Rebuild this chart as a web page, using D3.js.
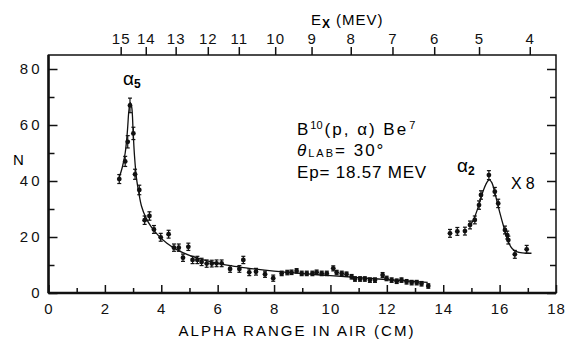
<!DOCTYPE html>
<html>
<head>
<meta charset="utf-8">
<script src="https://cdn.jsdelivr.net/npm/d3@7"></script>
<style>
  body { margin: 0; background: #fff; }
  svg { font-family: 'Liberation Sans', Arial, sans-serif; }
  .tick text { font-size: 14px; letter-spacing: 1px; fill: #111; }
  .yaxis .tick text { font-size: 15px; letter-spacing: 3px; }
</style>
</head>
<body>
<div id="chart"></div>
<script>
// alpha-5 group (range in cm, counts N, error)
const rangeA5 = [2.51, 2.72, 2.81, 2.89, 3.01, 3.07, 3.22, 3.41, 3.58, 3.74, 3.98, 4.26, 4.45, 4.62, 4.77, 4.96, 5.11, 5.28, 5.43, 5.61, 5.79, 5.96, 6.14, 6.44, 6.77, 6.91, 7.12, 7.36, 7.68, 7.97, 8.27, 8.47, 8.62, 8.80, 8.98, 9.16, 9.36, 9.51, 9.69, 9.87, 10.1, 10.22, 10.40, 10.57, 10.75, 10.87, 11.05, 11.22, 11.40, 11.58, 11.85, 11.99, 12.17, 12.35, 12.52, 12.70, 12.88, 13.06, 13.23, 13.47]
const countsA5 = [40.7, 47, 54, 67, 57, 42.4, 36.8, 26, 27.5, 22.7, 19.9, 21, 16.2, 16.2, 12.6, 16.5, 11.8, 11.8, 11.1, 10.5, 10.5, 10.6, 10.6, 8.6, 8.6, 11.8, 7.4, 7.6, 6.7, 5.3, 7.0, 7.3, 7.4, 7.9, 7.0, 7.0, 7.0, 7.4, 7.0, 7.0, 8.8, 7.3, 7.0, 6.7, 5.8, 5.0, 5.0, 5.0, 4.6, 4.6, 6.4, 5.2, 4.6, 4.2, 4.6, 4.0, 3.7, 3.7, 3.3, 2.5]
const errA5 = [1.6, 1.8, 2.2, 2.6, 2.2, 1.8, 1.7, 1.5, 1.5, 1.4, 1.4, 1.4, 1.3, 1.3, 1.3, 1.3, 1.3, 1.3, 1.3, 1.3, 1.2, 1.2, 1.2, 1.2, 1.2, 1.3, 1.2, 1.2, 1.1, 1.1, 0.8, 0.8, 0.8, 0.8, 0.8, 0.8, 0.8, 0.8, 0.8, 0.8, 0.9, 0.8, 0.8, 0.8, 0.8, 0.8, 0.8, 0.8, 0.8, 0.8, 0.9, 0.8, 0.8, 0.8, 0.8, 0.8, 0.8, 0.8, 0.8, 0.8]

// alpha-2 group (plotted x8)
const rangeA2 = [14.24, 14.50, 14.77, 14.95, 15.12, 15.27, 15.34, 15.62, 15.83, 15.95, 16.19, 16.27, 16.31, 16.54, 16.96]
const countsA2 = [21.3, 22.0, 22.1, 24.3, 26.1, 31.4, 35, 42.1, 36.2, 32, 22.5, 20.7, 18.9, 13.8, 15.6]
const errA2 = [1.4, 1.4, 1.4, 1.4, 1.4, 1.5, 1.5, 1.6, 1.5, 1.5, 1.4, 1.4, 1.4, 1.4, 1.4]

// fitted curves
const curveA5R = [2.5, 2.62, 2.72, 2.8, 2.85, 2.9, 2.95, 3.0, 3.05, 3.12, 3.2, 3.3, 3.45, 3.65, 3.9, 4.2, 4.6, 5.0, 5.5, 6.0, 6.5, 7.0, 8.0, 9.0, 10.0, 11.0, 12.0, 13.0, 13.45]
const curveA5N = [41, 45, 50, 58, 65, 68, 66.5, 58, 49, 41, 36, 31, 27, 23.5, 20.5, 17.8, 15.2, 13.4, 11.8, 10.6, 9.7, 9.0, 7.8, 6.9, 6.2, 5.5, 4.8, 4.1, 3.8]
const curveA2R = [14.95, 15.1, 15.25, 15.4, 15.55, 15.63, 15.72, 15.85, 16.0, 16.15, 16.3, 16.45, 16.6, 16.8, 17.13]
const curveA2N = [24, 26.8, 31, 36, 39.5, 40.4, 39.5, 35, 29, 23.5, 18.5, 15.8, 14.8, 14.3, 14.2]

// axis ticks
const rangeTicks = [0, 2, 4, 6, 8, 10, 12, 14, 16, 18]
const rangeMinor = [1, 3, 5, 7, 9, 11, 13, 15, 17]
const nTicks = [0, 20, 40, 60, 80]
const nMinor = [10, 30, 50, 70]
const exTicks = [15, 14, 13, 12, 11, 10, 9, 8, 7, 6, 5, 4]
const exAtRange = [2.56, 3.45, 4.51, 5.65, 6.75, 8.04, 9.33, 10.72, 12.2, 13.68, 15.27, 17.07]

const width = 568, height = 339

const svg = d3.select('#chart')
  .append('svg')
  .attr('width', width)
  .attr('height', height)
  .attr('viewBox', [0, 0, width, height])

const x = d3.scaleLinear().domain([0, 18]).range([48.5, 556])
const y = d3.scaleLinear().domain([0, 80]).range([293, 69])
const yTop = 55

// top (Ex) scale, nonlinear: built from tick pairs
const ex = d3.scaleLinear().domain(exTicks).range(exAtRange.map(x))

// frame
svg.append('rect')
  .attr('x', x(0)).attr('y', yTop)
  .attr('width', x(18) - x(0)).attr('height', y(0) - yTop)
  .attr('fill', 'none').attr('stroke', '#111').attr('stroke-width', 1.5)
svg.append('line')
  .attr('x1', x(0)).attr('x2', x(0)).attr('y1', yTop).attr('y2', y(0))
  .attr('stroke', '#111').attr('stroke-width', 2.5)
svg.append('line')
  .attr('x1', x(0)).attr('x2', x(18)).attr('y1', y(0)).attr('y2', y(0))
  .attr('stroke', '#111').attr('stroke-width', 2.5)

const styleAxis = g => {
  g.select('.domain').remove()
  g.selectAll('.tick line').attr('stroke', '#111').attr('stroke-width', 1.5)
}

// bottom axis
svg.append('g')
  .attr('transform', `translate(0,${y(0)})`)
  .call(d3.axisBottom(x).tickValues(rangeTicks).tickSize(-8).tickPadding(10).tickFormat(d3.format('d')))
  .call(styleAxis)
  .selectAll('.tick text').style('font-size', '15px')
svg.append('g')
  .attr('transform', `translate(0,${y(0)})`)
  .call(d3.axisBottom(x).tickValues(rangeMinor).tickSize(-5).tickFormat(''))
  .call(styleAxis)

// left axis
svg.append('g')
  .attr('class', 'yaxis')
  .attr('transform', `translate(${x(0)},0)`)
  .call(d3.axisLeft(y).tickValues(nTicks).tickSize(-9).tickPadding(6))
  .call(styleAxis)
svg.append('g')
  .attr('transform', `translate(${x(0)},0)`)
  .call(d3.axisLeft(y).tickValues(nMinor).tickSize(-6).tickFormat(''))
  .call(styleAxis)

// right axis ticks
svg.append('g')
  .attr('transform', `translate(${x(18)},0)`)
  .call(d3.axisRight(y).tickValues(nTicks).tickSize(-9).tickFormat(''))
  .call(styleAxis)
svg.append('g')
  .attr('transform', `translate(${x(18)},0)`)
  .call(d3.axisRight(y).tickValues(nMinor).tickSize(-6).tickFormat(''))
  .call(styleAxis)

// top Ex axis
svg.append('g')
  .attr('transform', `translate(0,${yTop})`)
  .call(d3.axisTop(ex).tickValues(exTicks).tickSize(8).tickPadding(3).tickFormat(d3.format('d')))
  .call(styleAxis)
  .selectAll('.tick text').style('font-size', '15px')

// axis titles
svg.append('text')
  .attr('x', 297).attr('y', 336)
  .attr('text-anchor', 'middle')
  .attr('font-size', 15).attr('letter-spacing', 2)
  .text('ALPHA RANGE IN AIR (CM)')

svg.append('text')
  .attr('x', 13).attr('y', 165)
  .attr('font-size', 15)
  .text('N')

const exTitle = svg.append('text')
  .attr('x', 311).attr('y', 25)
  .attr('font-size', 15).attr('letter-spacing', 1)
exTitle.append('tspan').text('E')
exTitle.append('tspan').attr('dy', 3).attr('font-size', 12).attr('font-weight', 'bold').text('X')
exTitle.append('tspan').attr('dy', -3).attr('dx', 5).text('(MEV)')

// curves
const line = d3.line()
  .x(d => x(d[0]))
  .y(d => y(d[1]))
  .curve(d3.curveCatmullRom)

svg.append('path')
  .datum(d3.zip(curveA5R, curveA5N))
  .attr('d', line)
  .attr('fill', 'none').attr('stroke', '#111').attr('stroke-width', 1.3)
svg.append('path')
  .datum(d3.zip(curveA2R, curveA2N))
  .attr('d', line)
  .attr('fill', 'none').attr('stroke', '#111').attr('stroke-width', 1.3)

// data points with error bars
const pts = d3.zip(rangeA5, countsA5, errA5).concat(d3.zip(rangeA2, countsA2, errA2))

const bars = svg.append('g').attr('stroke', '#111').attr('stroke-width', 1.2)
bars.selectAll('line.err')
  .data(pts)
  .enter()
  .append('line')
  .attr('class', 'err')
  .attr('x1', d => x(d[0])).attr('x2', d => x(d[0]))
  .attr('y1', d => y(d[1] - d[2])).attr('y2', d => y(d[1] + d[2]))
bars.selectAll('line.capt')
  .data(pts)
  .enter()
  .append('line')
  .attr('class', 'capt')
  .attr('x1', d => x(d[0]) - 2).attr('x2', d => x(d[0]) + 2)
  .attr('y1', d => y(d[1] + d[2])).attr('y2', d => y(d[1] + d[2]))
bars.selectAll('line.capb')
  .data(pts)
  .enter()
  .append('line')
  .attr('class', 'capb')
  .attr('x1', d => x(d[0]) - 2).attr('x2', d => x(d[0]) + 2)
  .attr('y1', d => y(d[1] - d[2])).attr('y2', d => y(d[1] - d[2]))

svg.append('g')
  .selectAll('circle')
  .data(pts)
  .enter()
  .append('circle')
  .attr('cx', d => x(d[0]))
  .attr('cy', d => y(d[1]))
  .attr('r', 2.4)
  .attr('fill', '#111')

// peak labels
const a5 = svg.append('text').attr('x', 123).attr('y', 85).attr('font-size', 19)
a5.append('tspan').text('α')
a5.append('tspan').attr('dy', 3).attr('font-size', 12).attr('font-weight', 'bold').text('5')

const a2 = svg.append('text').attr('x', 457).attr('y', 172).attr('font-size', 19)
a2.append('tspan').text('α')
a2.append('tspan').attr('dy', 3).attr('font-size', 12).attr('font-weight', 'bold').text('2')

svg.append('text')
  .attr('x', 511).attr('y', 189)
  .attr('font-size', 16).attr('letter-spacing', 4)
  .text('X8')

// reaction annotation
const t1 = svg.append('text').attr('x', 297).attr('y', 135).attr('font-size', 17).attr('letter-spacing', 2)
t1.append('tspan').text('B')
t1.append('tspan').attr('dy', -6).attr('font-size', 11).attr('letter-spacing', 0).text('10')
t1.append('tspan').attr('dy', 6).attr('dx', 2).text('(p, α) Be')
t1.append('tspan').attr('dy', -6).attr('dx', 1).attr('font-size', 11).text('7')

const t2 = svg.append('text').attr('x', 297).attr('y', 156).attr('font-size', 17).attr('letter-spacing', 2)
t2.append('tspan').attr('font-style', 'italic').text('θ')
t2.append('tspan').attr('dy', 1).attr('font-size', 11).attr('letter-spacing', 2).text('LAB')
t2.append('tspan').attr('dy', -1).text('= 30°')

svg.append('text')
  .attr('x', 297).attr('y', 178)
  .attr('font-size', 17).attr('letter-spacing', 0.8)
  .text('Ep= 18.57 MEV')
</script>
</body>
</html>
